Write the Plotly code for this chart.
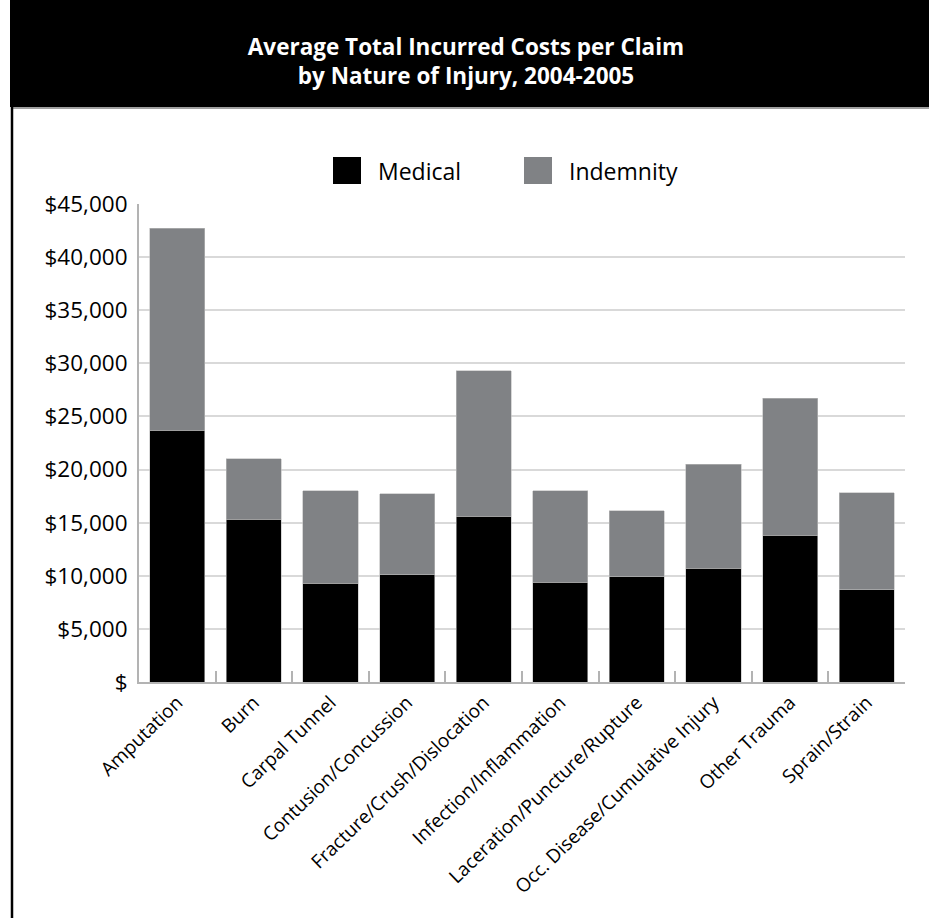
import plotly.graph_objects as go

# Nature-of-injury categories and average cost per claim components (USD)
categories = [
    "Amputation", "Burn", "Carpal Tunnel", "Contusion/Concussion",
    "Fracture/Crush/Dislocation", "Infection/Inflammation",
    "Laceration/Puncture/Rupture", "Occ. Disease/Cumulative Injury",
    "Other Trauma", "Sprain/Strain",
]
medical = [23700, 15300, 9300, 10100, 15600, 9400, 9900, 10700, 13800, 8700]
total = [42700, 21000, 18000, 17700, 29300, 18000, 16100, 20500, 26700, 17800]
indemnity = [t - m for t, m in zip(total, medical)]

tick_vals = [0, 5000, 10000, 15000, 20000, 25000, 30000, 35000, 40000, 45000]
tick_text = ["$", "$5,000", "$10,000", "$15,000", "$20,000", "$25,000",
             "$30,000", "$35,000", "$40,000", "$45,000"]

MED_COLOR = "#000000"
IND_COLOR = "#808285"
FONT = "Open Sans, Noto Sans, DejaVu Sans, sans-serif"

fig = go.Figure()
fig.add_trace(go.Bar(x=categories, y=medical, name="Medical",
                     marker=dict(color=MED_COLOR, line=dict(color="#bdbdbd", width=0.6))))
fig.add_trace(go.Bar(x=categories, y=indemnity, name="Indemnity",
                     marker=dict(color=IND_COLOR, line=dict(color="#bdbdbd", width=0.6))))

W, H = 929, 918
L, R, T, B = 139, 24, 204, 236
pw, ph = W - L - R, H - T - B


def px(x):
    return (x - L) / pw


def py(y):
    return (H - B - y) / ph


shapes = [
    # black header band
    dict(type="rect", xref="paper", yref="paper", x0=px(10), x1=px(940),
         y0=py(107), y1=py(-5), fillcolor="#000000", line=dict(width=0), layer="below"),
    # thin grey rule under the header
    dict(type="line", xref="paper", yref="paper", x0=px(12), x1=px(940),
         y0=py(108), y1=py(108), line=dict(color="#808080", width=1.5)),
    # left frame line
    dict(type="line", xref="paper", yref="paper", x0=px(12), x1=px(12),
         y0=py(107), y1=py(925), line=dict(color="#000000", width=2.5)),
    # legend swatches
    dict(type="rect", xref="paper", yref="paper", x0=px(333), x1=px(361),
         y0=py(184), y1=py(157), fillcolor=MED_COLOR, line=dict(width=0)),
    dict(type="rect", xref="paper", yref="paper", x0=px(524), x1=px(552),
         y0=py(184), y1=py(157), fillcolor=IND_COLOR, line=dict(width=0)),
]

annotations = [
    dict(text="Medical", xref="paper", yref="paper", x=px(376), y=py(171),
         xanchor="left", yanchor="middle", showarrow=False,
         font=dict(family=FONT, size=23, color="#000000")),
    dict(text="Indemnity", xref="paper", yref="paper", x=px(567), y=py(171),
         xanchor="left", yanchor="middle", showarrow=False,
         font=dict(family=FONT, size=23, color="#000000")),
]

fig.update_layout(
    width=W, height=H,
    margin=dict(l=L, r=R, t=T, b=B, pad=0),
    barmode="stack",
    bargap=0.28,
    showlegend=False,
    paper_bgcolor="#ffffff",
    plot_bgcolor="#ffffff",
    title=dict(
        text="Average Total Incurred Costs per Claim<br>by Nature of Injury, 2004-2005",
        x=0.5, xanchor="center", xref="paper",
        y=1 - 55 / H, yanchor="middle", yref="container",
        font=dict(family=FONT, size=22.5, color="#ffffff", weight=700),
    ),
    shapes=shapes,
    annotations=annotations,
    font=dict(family=FONT, color="#000000"),
)
fig.update_layout(title_x=(466 - L) / pw)

fig.update_xaxes(
    type="category",
    showline=True, linecolor="#b3b3b3", linewidth=2,
    ticks="inside", tickson="boundaries", ticklen=11, tickcolor="#b3b3b3", tickwidth=1.5,
    tickangle=-44,
    tickfont=dict(family=FONT, size=19, color="#000000"),
    showgrid=False,
)
fig.update_yaxes(
    range=[0, 45000],
    tickvals=tick_vals, ticktext=tick_text,
    showline=True, linecolor="#b3b3b3", linewidth=2,
    showgrid=True, gridcolor="#d9d9d9", gridwidth=1.5,
    ticks="", ticklabelstandoff=5,
    tickfont=dict(family=FONT, size=22.5, color="#000000"),
    zeroline=False,
)

fig.write_html("out.html")
